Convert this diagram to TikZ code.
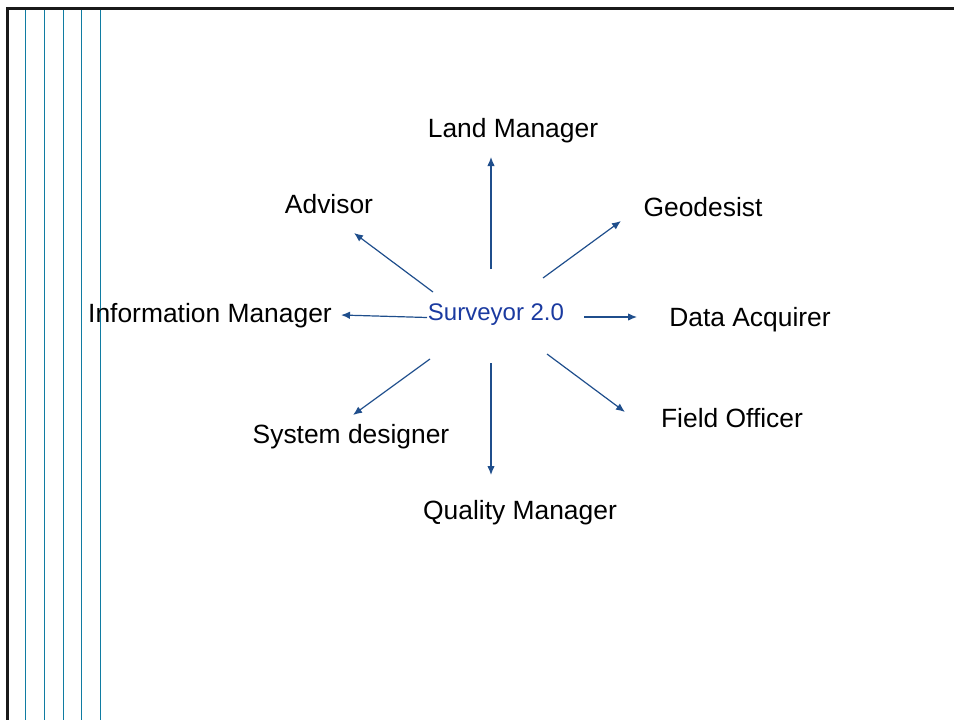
\documentclass[tikz,border=0pt]{standalone}
\usepackage{fontspec}
\setmainfont{Liberation Sans}
\usetikzlibrary{arrows.meta}
\definecolor{arrowblue}{HTML}{1F4E8C}
\definecolor{centerblue}{HTML}{1A3AA0}
\definecolor{ruleblue}{HTML}{107CA2}
\tikzset{
  lbl/.style={anchor=base, inner sep=0pt, font=\fontsize{26.4}{30}\selectfont},
  ctr/.style={anchor=base, inner sep=0pt, text=centerblue, font=\fontsize{24}{28}\selectfont},
  conn/.style={draw=arrowblue, line width=1.2pt, -{Latex[length=9pt,width=7.5pt]}},
  rule/.style={draw=ruleblue, line width=1.3pt},
  frame/.style={draw=black!90, line width=3pt}
}
\begin{document}
\begin{tikzpicture}[x=1pt,y=-1pt]
\useasboundingbox (0,0) rectangle (954,720);
% left ruled lines
\foreach \xx in {25.5,44.5,63.5,81.5,100.5} {\draw[rule] (\xx,8) -- (\xx,720);}
% frame
\draw[frame] (7.5,720) -- (7.5,8) -- (954,8);
% nodes
\node[ctr] (s) at (496,320) {Surveyor 2.0};
\node[lbl] (lm) at (513,137) {Land Manager};
\node[lbl] (adv) at (329,213) {Advisor};
\node[lbl] (geo) at (703,216) {Geodesist};
\node[lbl] (im) at (210,322) {Information Manager};
\node[lbl] (da) at (750,326) {Data Acquirer};
\node[lbl] (fo) at (732,427) {Field Officer};
\node[lbl] (sd) at (351,443) {System designer};
\node[lbl] (qm) at (520,519) {Quality Manager};
% connector endpoints
\coordinate (a1s) at (491,269); \coordinate (a1e) at (491,157);
\coordinate (a2s) at (543,278); \coordinate (a2e) at (621,221);
\coordinate (a3s) at (433,292); \coordinate (a3e) at (354,233);
\coordinate (a4s) at (427,317.5); \coordinate (a4e) at (341,315);
\coordinate (a5s) at (584,317); \coordinate (a5e) at (637,317);
\coordinate (a6s) at (430,359); \coordinate (a6e) at (353,415);
\coordinate (a7s) at (491,363); \coordinate (a7e) at (491,475);
\coordinate (a8s) at (547,354); \coordinate (a8e) at (625,412);
\foreach \i in {1,...,8} {\draw[conn] (a\i s) -- (a\i e);}
\end{tikzpicture}
\end{document}
